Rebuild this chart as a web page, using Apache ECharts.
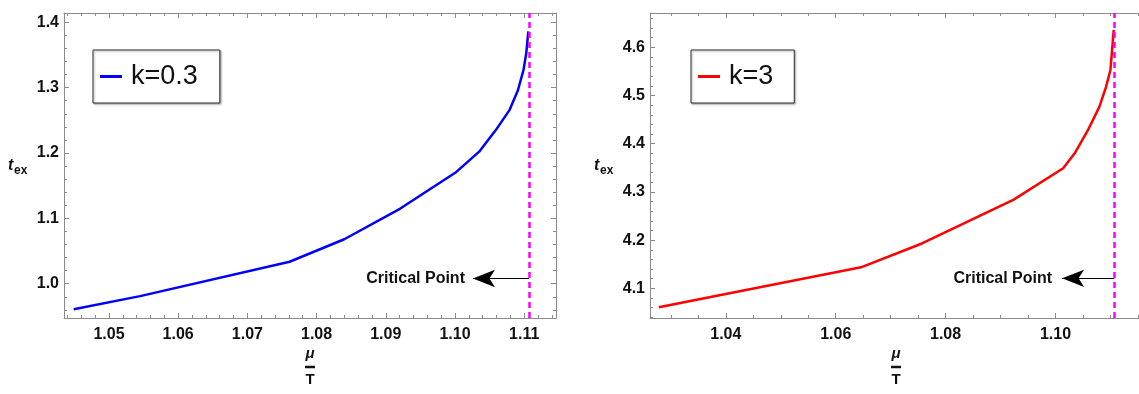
<!DOCTYPE html>
<html>
<head>
<meta charset="utf-8">
<script src="https://cdn.jsdelivr.net/npm/echarts@6/dist/echarts.min.js"></script>
<style>
html, body { margin: 0; padding: 0; background: #fff; }
#main { width: 1139px; height: 394px; }
</style>
</head>
<body>
<div id="main"></div>
<script>
// k=0.3 curve (left panel)
var muLow = [1.0449, 1.0545, 1.0761, 1.0840, 1.0921, 1.1002, 1.1035, 1.1059, 1.1079, 1.1091, 1.1099, 1.1103, 1.1106];
var texLow = [0.961, 0.981, 1.0336, 1.068, 1.115, 1.171, 1.202, 1.235, 1.266, 1.296, 1.327, 1.3525, 1.386];
// k=3 curve (right panel)
var muHigh = [1.0278, 1.0646, 1.0757, 1.0924, 1.1014, 1.1035, 1.1059, 1.1080, 1.1092, 1.1100, 1.1103, 1.1106];
var texHigh = [4.0606, 4.1436, 4.193, 4.284, 4.349, 4.380, 4.428, 4.477, 4.518, 4.553, 4.594, 4.636];

var seriesNames = ['k=0.3', 'k=3'];
var criticalMu = 1.1107;
// arrow: from the dashed line to the tip next to the label
var arrowLow = [[1.1107, 1.008], [1.1026, 1.008]];
var arrowHigh = [[1.1107, 4.1207], [1.1012, 4.1207]];

// plot ranges
var rangeLowX = [1.0435, 1.1146], rangeLowY = [0.9475, 1.4142];
var rangeHighX = [1.0262, 1.1152], rangeHighY = [4.0384, 4.6712];

var FONT = '"Liberation Sans", Arial, sans-serif';
var frameColor = '#8c8c8c';

function pairs(xs, ys) {
  var out = [];
  for (var i = 0; i < xs.length; i++) out.push([xs[i], ys[i]]);
  return out;
}

// main axis (labels, major ticks) + minor-tick axis, on both sides
function makeAxes(dim, gi, range, majorSplit, minorSplit, digits, hideFar) {
  var pos = dim === 'x' ? ['bottom', 'top'] : ['left', 'right'];
  var base = { type: 'value', gridIndex: gi, min: range[0], max: range[1], splitLine: { show: false } };
  var list = [];
  for (var s = 0; s < 2; s++) {
    var visible = !(s === 1 && hideFar);
    list.push(Object.assign({}, base, {
      show: visible,
      position: pos[s],
      splitNumber: majorSplit,
      axisLine: { show: true, lineStyle: { color: frameColor, width: 1 } },
      axisTick: { show: true, inside: true, length: 5, lineStyle: { color: frameColor } },
      axisLabel: {
        show: s === 0,
        showMinLabel: false,
        showMaxLabel: false,
        margin: dim === 'x' ? 9 : 5,
        fontFamily: FONT,
        fontWeight: 'bold',
        fontSize: 16,
        color: '#111',
        formatter: function (v) { return v.toFixed(digits); }
      }
    }));
    list.push(Object.assign({}, base, {
      show: visible,
      position: pos[s],
      splitNumber: minorSplit,
      axisLine: { show: false },
      axisTick: { show: true, inside: true, length: 3, lineStyle: { color: frameColor } },
      axisLabel: { show: false }
    }));
  }
  return list;
}

function curveSeries(name, color, data, xi, yi, arrow, labelGap) {
  return {
    name: name,
    type: 'line',
    xAxisIndex: xi,
    yAxisIndex: yi,
    data: data,
    showSymbol: false,
    symbol: 'none',
    lineStyle: { color: color, width: 2.5 },
    itemStyle: { color: color },
    z: 3,
    markLine: {
      silent: true,
      animation: false,
      precision: 4,
      symbol: ['none', 'arrow'],
      symbolSize: [13, 22],
      data: [
        [
          { coord: arrow[0] },
          {
            coord: arrow[1],
            lineStyle: { color: '#000', width: 1, type: 'solid' },
            label: {
              show: true, position: 'end', distance: labelGap, formatter: 'Critical Point',
              fontFamily: FONT, fontWeight: 'bold', fontSize: 16, color: '#111'
            }
          }
        ]
      ]
    }
  };
}

// helper series that only carries the dashed critical line
function criticalSeries(xi, yi) {
  return {
    type: 'line',
    xAxisIndex: xi,
    yAxisIndex: yi,
    data: [],
    z: 4,
    markLine: {
      silent: true,
      animation: false,
      precision: 4,
      symbol: ['none', 'none'],
      label: { show: false },
      lineStyle: { color: '#ff00ff', width: 2.5, type: [6, 4] },
      data: [{ xAxis: criticalMu }]
    }
  };
}

function legendFor(name, left, padRight) {
  return {
    data: [name],
    left: left,
    top: 50,
    orient: 'horizontal',
    selectedMode: false,
    icon: 'rect',
    itemWidth: 22,
    itemHeight: 3,
    padding: [13, padRight, 13, 7],
    borderColor: '#333',
    borderWidth: 1,
    backgroundColor: '#fff',
    shadowColor: 'rgba(0,0,0,0.35)',
    shadowBlur: 2,
    shadowOffsetX: 1,
    shadowOffsetY: 1,
    textStyle: { fontFamily: FONT, fontSize: 27, color: '#111', padding: [0, 0, 0, 4] }
  };
}

function axisTitles(cx, tx) {
  return [
    { type: 'text', x: tx, y: 166, style: { text: 't', font: 'italic bold 16px ' + FONT, fill: '#111', verticalAlign: 'middle' } },
    { type: 'text', x: tx + 6, y: 171, style: { text: 'ex', font: 'bold 12px ' + FONT, fill: '#111', verticalAlign: 'middle' } },
    { type: 'text', x: cx, y: 354, style: { text: 'μ', font: 'italic bold 15px ' + FONT, fill: '#111', align: 'center', verticalAlign: 'middle' } },
    { type: 'line', shape: { x1: cx - 5, y1: 367, x2: cx + 5, y2: 367 }, style: { stroke: '#111', lineWidth: 2.5 } },
    { type: 'text', x: cx, y: 380, style: { text: 'T', font: 'bold 15px ' + FONT, fill: '#111', align: 'center', verticalAlign: 'middle' } }
  ];
}

var chart = echarts.init(document.getElementById('main'), null, { renderer: 'canvas' });
chart.setOption({
  animation: false,
  backgroundColor: '#fff',
  grid: [
    { left: 64, right: 583, top: 13, bottom: 76, containLabel: false },
    { left: 650, right: -2, top: 13, bottom: 76, containLabel: false }
  ],
  xAxis: makeAxes('x', 0, rangeLowX, 7, 35, 2, false).concat(makeAxes('x', 1, rangeHighX, 4, 18, 2, false)),
  yAxis: makeAxes('y', 0, rangeLowY, 5, 23, 1, false).concat(makeAxes('y', 1, rangeHighY, 6, 32, 1, true)),
  legend: [legendFor(seriesNames[0], 93, 22), legendFor(seriesNames[1], 691, 21)],
  series: [
    curveSeries(seriesNames[0], '#0000ff', pairs(muLow, texLow), 0, 0, arrowLow, 8),
    curveSeries(seriesNames[1], '#ff0000', pairs(muHigh, texHigh), 4, 4, arrowHigh, 10),
    criticalSeries(0, 0),
    criticalSeries(4, 4)
  ],
  graphic: axisTitles(310, 8).concat(axisTitles(896, 594))
});
</script>
</body>
</html>
